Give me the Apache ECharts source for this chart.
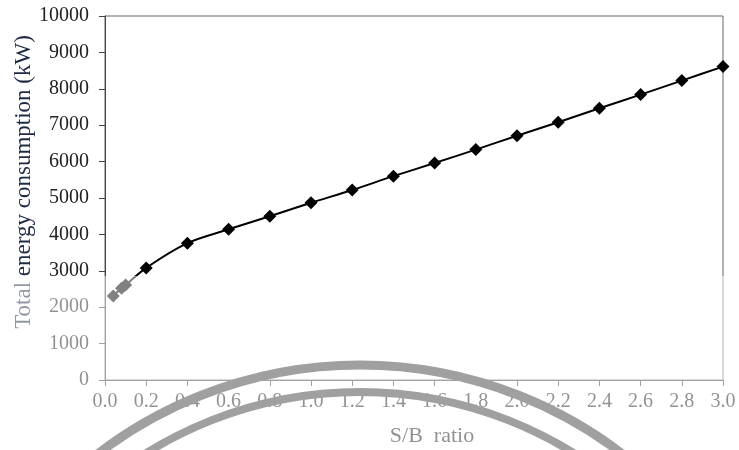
<!DOCTYPE html>
<html>
<head>
<meta charset="utf-8">
<script src="https://cdn.jsdelivr.net/npm/echarts@6/dist/echarts.min.js"></script>
<style>
  html, body { margin: 0; padding: 0; background: #fff; }
  #chart { width: 739px; height: 450px; }
</style>
</head>
<body>
<div id="chart"></div>
<script>
// S/B ratio vs total energy consumption (kW)
const sbRatio = [0.04, 0.08, 0.1, 0.2, 0.4, 0.6, 0.8, 1.0, 1.2, 1.4, 1.6, 1.8, 2.0, 2.2, 2.4, 2.6, 2.8, 3.0];
const energyKW = [2310, 2520, 2610, 3080, 3760, 4140, 4500, 4870, 5220, 5600, 5960, 6330, 6710, 7080, 7465, 7840, 8225, 8610];
const yTicks = [0, 1000, 2000, 3000, 4000, 5000, 6000, 7000, 8000, 9000, 10000];
const xTicks = [0.0, 0.2, 0.4, 0.6, 0.8, 1.0, 1.2, 1.4, 1.6, 1.8, 2.0, 2.2, 2.4, 2.6, 2.8, 3.0];

const serif = "Liberation Serif";
const myChart = echarts.init(document.getElementById("chart"));

const option = {
  animation: false,
  backgroundColor: "#fff",
  grid: {
    left: 105,
    right: 16,
    top: 16,
    bottom: 70,
    show: true,
    borderColor: "#666",
    borderWidth: 1,
  },
  xAxis: {
    type: "value",
    min: xTicks[0],
    max: xTicks[xTicks.length - 1],
    interval: 0.2,
    axisLine: { lineStyle: { color: "#444", width: 1 } },
    axisTick: { show: true, inside: false, length: 6, lineStyle: { color: "#444" } },
    axisLabel: {
      margin: 12,
      color: "#222",
      fontFamily: serif,
      fontSize: 20,
      formatter: (v) => v.toFixed(1),
    },
    splitLine: { show: false },
  },
  yAxis: {
    type: "value",
    min: yTicks[0],
    max: yTicks[yTicks.length - 1],
    interval: 1000,
    axisLine: { show: true, lineStyle: { color: "#444", width: 1 } },
    axisTick: { show: true, inside: false, length: 6, lineStyle: { color: "#444" } },
    axisLabel: {
      margin: 16,
      color: "#222",
      fontFamily: serif,
      fontSize: 20,
      formatter: (v) => String(v),
    },
    splitLine: { show: false },
  },
  series: [
    {
      type: "line",
      data: sbRatio.map((x, i) => [x, energyKW[i]]),
      smooth: 0.3,
      symbol: "diamond",
      symbolSize: 13,
      lineStyle: { color: "#000", width: 2 },
      itemStyle: { color: "#000" },
      z: 3,
    },
  ],
  graphic: [
    // axis titles
    {
      type: "text",
      x: 24,
      y: 182,
      rotation: Math.PI / 2,
      z: 50,
      style: {
        text: "Total energy consumption (kW)",
        font: "23px 'Liberation Serif'",
        fill: "#1f2a44",
        align: "center",
        verticalAlign: "middle",
      },
    },
    {
      type: "text",
      x: 432,
      y: 436,
      z: 50,
      style: {
        text: "S/B  ratio",
        font: "22px 'Liberation Serif'",
        fill: "#222",
        align: "center",
        verticalAlign: "middle",
      },
    },
    // faded lower part of the scan
    {
      type: "rect",
      shape: { x: 0, y: 276, width: 739, height: 174 },
      style: { fill: "rgba(255,255,255,0.5)" },
      z: 100,
      silent: true,
    },
    // stamp arcs over the bottom
    {
      type: "circle",
      shape: { cx: 360, cy: 796, r: 431 },
      style: { fill: "none", stroke: "#a0a0a0", lineWidth: 9 },
      z: 110,
      silent: true,
    },
    {
      type: "circle",
      shape: { cx: 360, cy: 796, r: 404 },
      style: { fill: "none", stroke: "#a0a0a0", lineWidth: 8 },
      z: 110,
      silent: true,
    },
  ],
};

myChart.setOption(option);
window.addEventListener("resize", myChart.resize);
</script>
</body>
</html>
